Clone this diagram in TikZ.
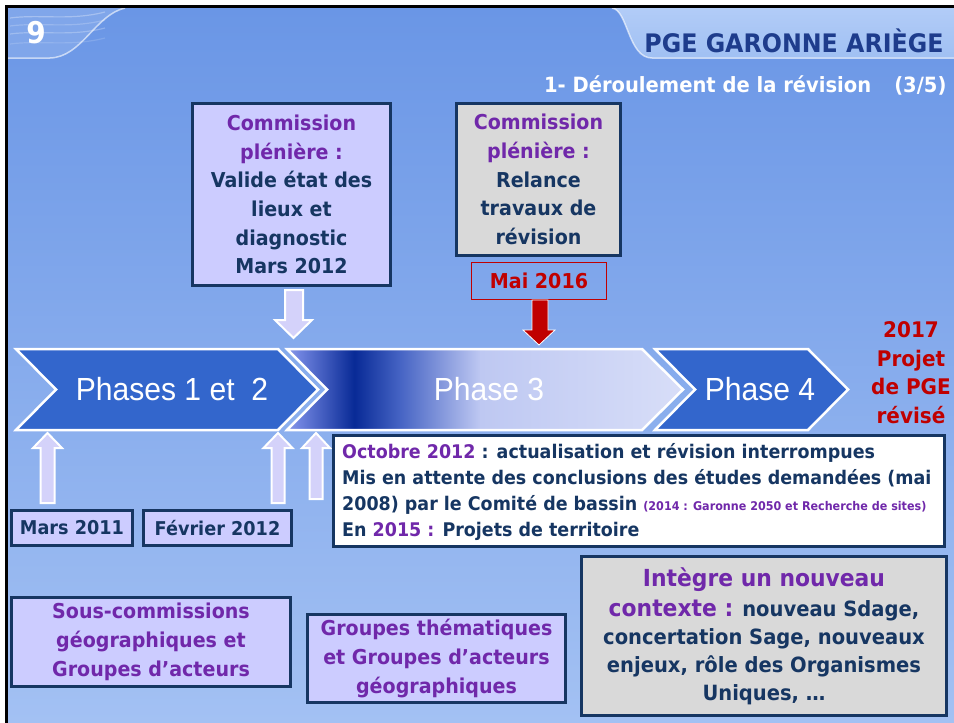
\documentclass[tikz,border=0pt]{standalone}
\usepackage{fontspec}
\usepackage{graphicx}
\setmainfont[FakeStretch=0.93]{DejaVu Sans}
\newfontfamily\phasefont[FakeStretch=0.94]{Liberation Sans}
\definecolor{navy}{RGB}{22,54,98}
\definecolor{purp}{RGB}{112,40,170}
\definecolor{redc}{RGB}{192,0,0}
\definecolor{lav}{RGB}{204,204,255}
\definecolor{grayb}{RGB}{217,217,217}
\definecolor{chev}{RGB}{51,102,204}
\definecolor{titleblue}{RGB}{30,60,140}
\definecolor{arrowlav}{RGB}{212,210,250}
\definecolor{bgtop}{RGB}{106,150,230}
\definecolor{bgbot}{RGB}{163,193,243}
\definecolor{hdrlight}{RGB}{128,166,234}
\definecolor{paneltop}{RGB}{178,204,247}
\definecolor{panelbot}{RGB}{160,192,243}
\definecolor{p3a}{RGB}{140,155,232}
\definecolor{p3b}{RGB}{110,130,222}
\definecolor{p3c}{RGB}{8,42,150}
\definecolor{p3d}{RGB}{70,100,196}
\definecolor{p3e}{RGB}{190,200,242}
\definecolor{p3f}{RGB}{216,222,248}
\pgfdeclarehorizontalshading{phasethree}{100bp}{color(0bp)=(p3a); color(25bp)=(p3a); color(26.6bp)=(p3b); color(33.5bp)=(p3c); color(39.3bp)=(p3d); color(49.4bp)=(p3e); color(75bp)=(p3f); color(100bp)=(p3f)}
\tikzset{
  boxstyle/.style={draw=navy, line width=3pt, inner sep=0pt, align=center, text=navy,
    font=\bfseries\fontsize{20.5}{28.7}\selectfont},
  chevstyle/.style={fill=chev, draw=white, line width=2.5pt, line join=miter},
  blockarr/.style={fill=arrowlav, draw=white, line width=2pt, line join=miter},
  phasetext/.style={text=white, font=\phasefont\fontsize{32}{36}\selectfont},
}
\begin{document}
\begin{tikzpicture}[x=1pt,y=-1pt]
\useasboundingbox (0,0) rectangle (954,723);
% page and background
\fill[white] (0,0) rectangle (954,723);
\shade[top color=bgtop, bottom color=bgbot] (8,8) rectangle (954,723);
% header left patch
\fill[hdrlight] (8,8) -- (125,8) .. controls (95,15) and (82,57) .. (50,58) -- (8,58) -- cycle;
\foreach \yy/\op in {18/0.3,26/0.2,34/0.25,44/0.15}{
  \draw[white, opacity=\op, line width=1.2pt] (10,\yy) .. controls (40,\yy-4) and (70,\yy+3) .. (105,\yy-6);
}
\draw[white, opacity=0.6, line width=1.5pt] (8,58) -- (50,58) .. controls (82,57) and (95,15) .. (125,8);
% header right panel
\shade[top color=paneltop, bottom color=panelbot] (612,8) .. controls (628,10) and (628,58) .. (652,58) -- (954,58) -- (954,8) -- cycle;
\draw[white, opacity=0.6, line width=1.5pt] (612,8) .. controls (628,10) and (628,58) .. (652,58) -- (954,58);
% frame
\draw[black, line width=3pt] (6.5,723) -- (6.5,6.5) -- (954,6.5);
% titles
\node[text=white, font=\bfseries\fontsize{30}{30}\selectfont] (num) at (36,33) {9};
\node[anchor=east, text=titleblue, font=\bfseries\fontsize{25.5}{28}\selectfont] (title) at (947,41) {PGE GARONNE ARIÈGE};
\node[anchor=east, text=white, font=\bfseries\fontsize{21}{24}\selectfont] (subtitle) at (950,85) {1- Déroulement de la révision\hspace{1.1em}(3/5)};
% top boxes
\node[boxstyle, fill=lav, minimum width=198pt, minimum height=182pt] (boxA) at (291.5,194.5)
  {\textcolor{purp}{Commission}\\\textcolor{purp}{plénière :}\\Valide état des\\lieux et\\diagnostic\\Mars 2012};
\node[boxstyle, fill=grayb, minimum width=164pt, minimum height=152pt] (boxB) at (538.5,179.5)
  {\textcolor{purp}{Commission}\\\textcolor{purp}{plénière :}\\Relance\\travaux de\\révision};
\node[boxstyle, draw=redc, line width=1pt, text=redc, minimum width=135pt, minimum height=37pt] (mai) at (539,281) {Mai 2016};
% down arrows
\draw[blockarr] (285,290) -- (303,290) -- (303,320) -- (312,320) -- (293.5,338) -- (275,320) -- (285,320) -- cycle;
\draw[fill=redc, draw=white, line width=0.8pt, line join=miter] (532,300) -- (548,300) -- (548,330) -- (555,330) -- (539,345) -- (523,330) -- (532,330) -- cycle;
% chevrons
\draw[chevstyle] (16,349) -- (278,349) -- (318,389.5) -- (278,430) -- (16,430) -- (56,389.5) -- cycle;
\draw[chevstyle, shading=phasethree] (287,349) -- (642,349) -- (683,389.5) -- (642,430) -- (287,430) -- (327,389.5) -- cycle;
\draw[chevstyle] (655,349) -- (808,349) -- (848,389.5) -- (808,430) -- (655,430) -- (695,389.5) -- cycle;
\node[phasetext] (ph12) at (172,389) {Phases 1 et\ \ 2};
\node[phasetext] (ph3) at (489,389) {Phase 3};
\node[phasetext] (ph4) at (760,389) {Phase 4};
\node[align=center, text=redc, font=\bfseries\fontsize{21.5}{28.5}\selectfont] (final) at (911,372.5) {2017\\Projet\\de PGE\\révisé};
% up arrows
\draw[blockarr] (40.5,503) -- (40.5,448) -- (33,448) -- (47.5,433) -- (62,448) -- (54.5,448) -- (54.5,503) -- cycle;
\draw[blockarr] (271.5,503) -- (271.5,448) -- (263.5,448) -- (278,433) -- (292.5,448) -- (284.5,448) -- (284.5,503) -- cycle;
\draw[blockarr] (309.5,499) -- (309.5,448) -- (302,448) -- (316,433) -- (330,448) -- (322.5,448) -- (322.5,499) -- cycle;
% date boxes
\node[boxstyle, fill=lav, minimum width=121pt, minimum height=35pt, font=\bfseries\fontsize{19}{24}\selectfont] (mars) at (72,528) {Mars 2011};
\node[boxstyle, fill=lav, minimum width=148pt, minimum height=35pt, font=\bfseries\fontsize{19}{24}\selectfont] (fev) at (217.5,528) {Février 2012};
% octobre box
\node[boxstyle, fill=white, minimum width=611pt, minimum height=111pt] (oct) at (639,491) {};
\node[anchor=west, align=left, text=navy, inner sep=0pt, font=\bfseries\fontsize{18.8}{25.7}\selectfont] (octtext) at (342,492)
  {\textcolor{purp}{Octobre 2012} : actualisation et révision interrompues\\
   Mis en attente des conclusions des études demandées (mai\\
   2008) par le Comité de bassin {\fontsize{12}{12}\selectfont\textcolor{purp}{(2014 : Garonne 2050 et Recherche de sites)}}\\
   En \textcolor{purp}{2015 :} Projets de territoire};
% bottom boxes
\node[boxstyle, fill=lav, text=purp, minimum width=279pt, minimum height=89pt] (sous) at (151,642)
  {Sous-commissions\\géographiques et\\Groupes d’acteurs};
\node[boxstyle, fill=lav, text=purp, minimum width=258pt, minimum height=88pt] (grp) at (436.5,658.5)
  {Groupes thématiques\\et Groupes d’acteurs\\géographiques};
\node[boxstyle, fill=grayb, minimum width=365pt, minimum height=159pt, font=\bfseries\fontsize{21}{28}\selectfont] (ctx) at (764,636)
  {\textcolor{purp}{\fontsize{23.5}{28}\selectfont Intègre un nouveau}\\[2pt]
   \textcolor{purp}{\fontsize{23.5}{28}\selectfont contexte :} nouveau Sdage,\\
   concertation Sage, nouveaux\\
   enjeux, rôle des Organismes\\
   Uniques, …};
\end{tikzpicture}
\end{document}
